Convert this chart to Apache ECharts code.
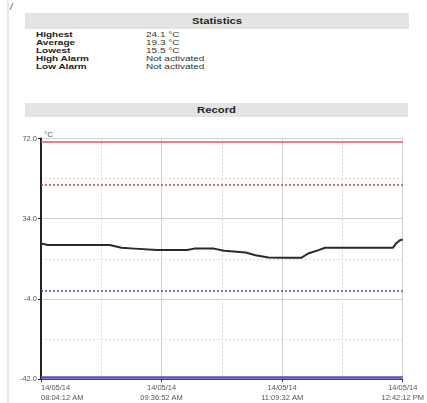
<!DOCTYPE html>
<html>
<head>
<meta charset="utf-8">
<script src="https://cdn.jsdelivr.net/npm/echarts@6/dist/echarts.min.js"></script>
<style>
  html, body { margin:0; padding:0; background:#fff; width:427px; height:403px; overflow:hidden;
    font-family:"Liberation Sans", Arial, sans-serif; }
  .strip { position:absolute; left:7px; top:0; width:2px; height:403px; background:#e2ecf4; }
  .mark { position:absolute; left:10px; top:2px; font-size:9px; color:#444; font-style:italic; }
  .hdr { position:absolute; left:25px; width:384px; background:#e4e4e4; color:#222;
    font-weight:bold; font-size:9px; text-align:center; }
  .hdr span { display:inline-block; transform:scaleX(1.25); }
  .row { position:absolute; font-size:8px; line-height:8px; color:#222; white-space:nowrap;
    transform:scaleX(1.25); transform-origin:0 50%; }
  .lab { left:36px; font-weight:bold; }
  .val { left:146px; color:#333; }
  #chart { position:absolute; left:0; top:0; width:427px; height:403px; }
</style>
</head>
<body>
<div class="strip"></div>
<div class="mark">/</div>
<div class="hdr" style="top:13px;height:16px;line-height:17px;"><span>Statistics</span></div>
<div id="stats"></div>
<div class="hdr" style="top:103px;height:14px;line-height:15px;width:383px;"><span>Record</span></div>
<div id="chart"></div>
<script>
// ---- data ----
var statLabels = ['Highest', 'Average', 'Lowest', 'High Alarm', 'Low Alarm'];
var statValues = ['24.1 °C', '19.3 °C', '15.5 °C', 'Not activated', 'Not activated'];

var dateLabel = '14/05/14';
var startTime = '08:04:12';
var endTime = '12:42:12';
var tickStepSeconds = 5560; // 1h32m40s between labelled ticks

var times = ['08:04:12','08:09:30','08:57:00','09:06:00','09:16:00','09:33:30','09:56:30','10:02:00',
             '10:17:00','10:25:00','10:41:30','10:49:00','10:59:00','11:09:00','11:24:30','11:29:30',
             '11:37:30','11:42:30','12:34:30','12:37:00','12:40:00','12:42:12'];
var temps = [22.2, 21.5, 21.5, 20.2, 19.8, 19.1, 19.1, 19.8,
             19.8, 18.8, 18.0, 16.7, 15.6, 15.5, 15.5, 17.5,
             19.1, 20.2, 20.2, 22.2, 23.8, 24.1];

var yTicks = [-42, -4, 34, 72];
var highLimit = 70.5, highWarn = 50, lowWarn = 0, lowLimit = -41;

// ---- stats text ----
var statsDiv = document.getElementById('stats');
statLabels.forEach(function (l, i) {
  var top = 31 + i * 8;
  statsDiv.innerHTML += '<div class="row lab" style="top:' + top + 'px">' + l + '</div>' +
                        '<div class="row val" style="top:' + top + 'px">' + statValues[i] + '</div>';
});

function toSec(t) { var p = t.split(':'); return (+p[0]) * 3600 + (+p[1]) * 60 + (+p[2]); }
var t0 = toSec(startTime);
var tEnd = toSec(endTime) - t0;
function fmt(s) {
  var abs = t0 + s;
  var h = Math.floor(abs / 3600), m = Math.floor(abs % 3600 / 60), sec = Math.round(abs % 60);
  var ap = h >= 12 ? 'PM' : 'AM';
  var hh = h % 12; if (hh === 0) hh = 12;
  function p2(n) { return (n < 10 ? '0' : '') + n; }
  return dateLabel + '\n' + p2(hh) + ':' + p2(m) + ':' + p2(sec) + ' ' + ap;
}

var data = times.map(function (t, i) { return [toSec(t) - t0, temps[i]]; });

var chart = echarts.init(document.getElementById('chart'), null, { renderer: 'canvas' });
chart.setOption({
  backgroundColor: 'transparent',
  animation: false,
  grid: { left: 41, right: 22, top: 138.5, bottom: 24, containLabel: false },
  xAxis: {
    type: 'value', min: 0, max: tEnd, interval: tickStepSeconds,
    axisLine: { show: true, onZero: false, lineStyle: { color: '#444', width: 1 } },
    axisTick: { show: true, length: 3, lineStyle: { color: '#333' } },
    axisLabel: { formatter: fmt, fontSize: 7.5, color: '#555', lineHeight: 10, margin: 4,
                 fontFamily: 'Liberation Sans, Arial', alignMinLabel: 'left', showMaxLabel: true, showMinLabel: true },
    splitLine: { show: true, lineStyle: { color: '#cfcfcf', width: 1 } },
    minorTick: { show: false, splitNumber: 2 },
    minorSplitLine: { show: true, lineStyle: { color: '#d8d8d8', type: [2, 2], width: 1 } }
  },
  yAxis: {
    type: 'value', min: yTicks[0], max: yTicks[yTicks.length - 1], interval: yTicks[1] - yTicks[0],
    name: '°C', nameLocation: 'end', nameGap: 0,
    nameTextStyle: { fontSize: 8, color: '#555', align: 'left', verticalAlign: 'bottom', padding: [0, 0, 0, 3],
                     fontFamily: 'Liberation Sans, Arial' },
    axisLine: { show: true, lineStyle: { color: '#222', width: 2 } },
    axisTick: { show: true, length: 3, lineStyle: { color: '#222' } },
    axisLabel: { formatter: function (v) { return v.toFixed(1); }, fontSize: 7.5, color: '#555', margin: 4,
                 fontFamily: 'Liberation Sans, Arial' },
    splitLine: { show: true, lineStyle: { color: '#cfcfcf', width: 1 } },
    minorTick: { show: false, splitNumber: 2 },
    minorSplitLine: { show: true, lineStyle: { color: '#d8d8d8', type: [2, 2], width: 1 } }
  },
  series: [{
    type: 'line', data: data, showSymbol: false, symbol: 'none',
    lineStyle: { color: '#2a2a2a', width: 2 },
    markLine: {
      silent: true, symbol: 'none', label: { show: false },
      data: [
        { yAxis: highLimit, lineStyle: { color: '#e05a5a', type: 'solid', width: 1.5 } },
        { yAxis: highWarn, lineStyle: { color: '#c94040', type: [2, 2], width: 1.5 } },
        { yAxis: lowWarn, lineStyle: { color: '#4a4aa8', type: [2, 2], width: 1.5 } },
        { yAxis: lowLimit, lineStyle: { color: '#5252b8', type: 'solid', width: 2.5 } }
      ]
    }
  }]
});
</script>
</body>
</html>
